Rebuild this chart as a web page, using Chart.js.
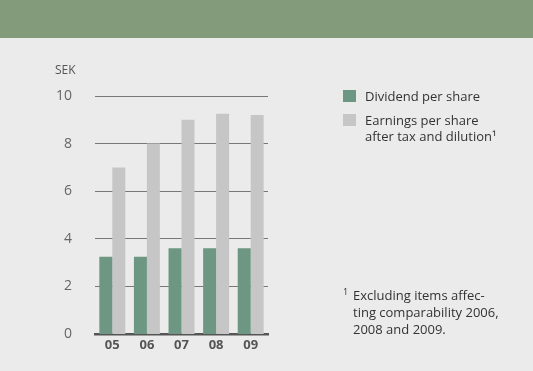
<!DOCTYPE html>
<html>
<head>
<meta charset="utf-8">
<script src="https://cdn.jsdelivr.net/npm/chart.js@4"></script>
<style>
  body { margin:0; background:#ebebeb; font-family:"Open Sans", sans-serif; }
  #wrap { position:relative; width:533px; height:371px; overflow:hidden; }
  #head { position:absolute; left:0; top:0; width:533px; height:38px; background:#839a7b; }
  #c { position:absolute; left:0; top:0; }
  .unit { position:absolute; left:55px; top:61px; font-size:12px; color:#555; }
  .leg { position:absolute; left:343px; font-size:13px; color:#333; line-height:16px; }
  .leg i { position:absolute; left:0; top:2px; width:13px; height:12px; }
  .leg span { display:block; margin-left:22px; }
  .note { position:absolute; left:343px; top:287px; font-size:13px; color:#333; line-height:17px; }
  .note sup { position:absolute; left:0; top:-4px; font-size:9px; }
  .note span { display:block; margin-left:10px; }
</style>
</head>
<body>
<div id="wrap">
  <canvas id="c" width="533" height="371"></canvas>
  <div id="head"></div>
  <div class="unit">SEK</div>
  <div class="leg" style="top:88px"><i style="background:#6d9683"></i><span>Dividend per share</span></div>
  <div class="leg" style="top:112px"><i style="background:#c6c6c6"></i><span>Earnings per share<br>after tax and dilution¹</span></div>
  <div class="note"><sup>1</sup><span>Excluding items affec-<br>ting comparability 2006,<br>2008 and 2009.</span></div>
</div>
<script>
const years = ['05','06','07','08','09'];
const dividend = [3.25,3.25,3.6,3.6,3.6];
const earnings = [7.0,8.0,9.0,9.25,9.2];
const yTicks = [0,2,4,6,8,10];

const chart = new Chart(document.getElementById('c').getContext('2d'),{
    type:'bar',
    data:{
        labels:years,
        datasets:[{
            label:'Dividend per share',
            data:dividend,
            backgroundColor:'#6d9683'
        },{
            label:'Earnings per share after tax and dilution',
            data:earnings,
            backgroundColor:'#c6c6c6'
        }]
    },
    options:{
        responsive:false,
        animation:false,
        layout:{padding:{left:0,top:96,right:265,bottom:0}},
        datasets:{bar:{barPercentage:1,categoryPercentage:0.75}},
        plugins:{legend:{display:false},tooltip:{enabled:false}},
        scales:{
            x:{
                grid:{display:false},
                border:{display:true,color:'#555',width:2.5},
                ticks:{color:'#555',font:{family:'Open Sans',size:13,weight:'bold'},padding:-5},
                afterFit:s=>{s.height=37}
            },
            y:{
                min:0,max:10,
                afterBuildTicks:s=>{s.ticks=yTicks.map(v=>({value:v}))},
                afterFit:s=>{s.width=95},
                border:{display:false},
                grid:{color:'#777',lineWidth:c=>c.tick.value===0?0:1,drawTicks:false},
                ticks:{color:'#666',font:{family:'Open Sans',size:14},padding:23}
            }
        }
    }
})
</script>
</body>
</html>
